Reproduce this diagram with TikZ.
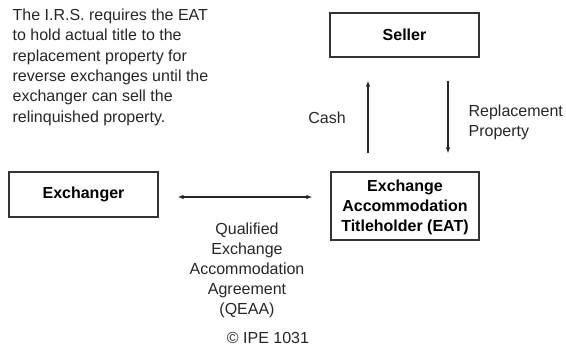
\documentclass[tikz,border=0pt]{standalone}
\usepackage{fontspec}
\setmainfont{Liberation Sans}
\usetikzlibrary{arrows.meta}

\begin{document}
\begin{tikzpicture}[x = 1pt, y = -1pt, line width = 1.3pt,
                        box/.style = {draw = black!80, fill = white, font = \fontsize{16}{20}\selectfont\bfseries,
                                      align = center, inner sep = 0pt, minimum width = 149pt},
                        txt/.style = {inner sep = 0pt, text = black!85, font = \fontsize{16}{20}\selectfont},
                        arr/.style = {line width = 1.1pt, draw = black!85, -{Latex[length = 6pt, width = 4.5pt]}}]
      \useasboundingbox (0, 0) rectangle (566, 348);
      % boxes
      \node [box, minimum height = 44pt] (seller) at (404.5, 35){Seller};
      \node [box, minimum height = 45pt] (exch) at (83.5, 194.5){Exchanger};
      \node [box, minimum height = 68pt, minimum width = 148pt, text depth = 0pt] (eat) at (405, 206)
            {Exchange\\Accommodation\\Titleholder (EAT)};
      % text
      \node [txt, anchor = north west, align = left, font = \fontsize{16}{20.4}\selectfont] (irs) at (12, 8)
            {The I.R.S. requires the EAT\\to hold actual title to the\\replacement property for\\
             reverse exchanges until the\\exchanger can sell the\\relinquished property.};
      \node [txt] (cash) at (327, 118){Cash};
      \node [txt, anchor = west, align = left] (repl) at (468, 122){Replacement\\Property};
      \node [txt, align = center] (qeaa) at (247, 270)
            {Qualified\\Exchange\\Accommodation\\Agreement\\(QEAA)};
      \node [txt] (copy) at (268, 338){\textcopyright\ IPE 1031};
      % arrows
      \coordinate (xc) at (368, 0);
      \coordinate (xr) at (448, 0);
      \draw [arr, shorten < = 18pt, shorten > = 23pt] (eat.north -| xc) -- (seller.south -| xc);
      \draw [arr, shorten < = 23pt, shorten > = 18pt] (seller.south -| xr) -- (eat.north -| xr);
      \draw [arr, {Latex[length = 6pt, width = 4.5pt]}-{Latex[length = 6pt, width = 4.5pt]},
             shorten < = 19pt, shorten > = 18pt]
            ([yshift = -2.5pt]exch.east) -- ([yshift = -2.5pt]exch.east -| eat.west);
    \end{tikzpicture}
\end{document}
